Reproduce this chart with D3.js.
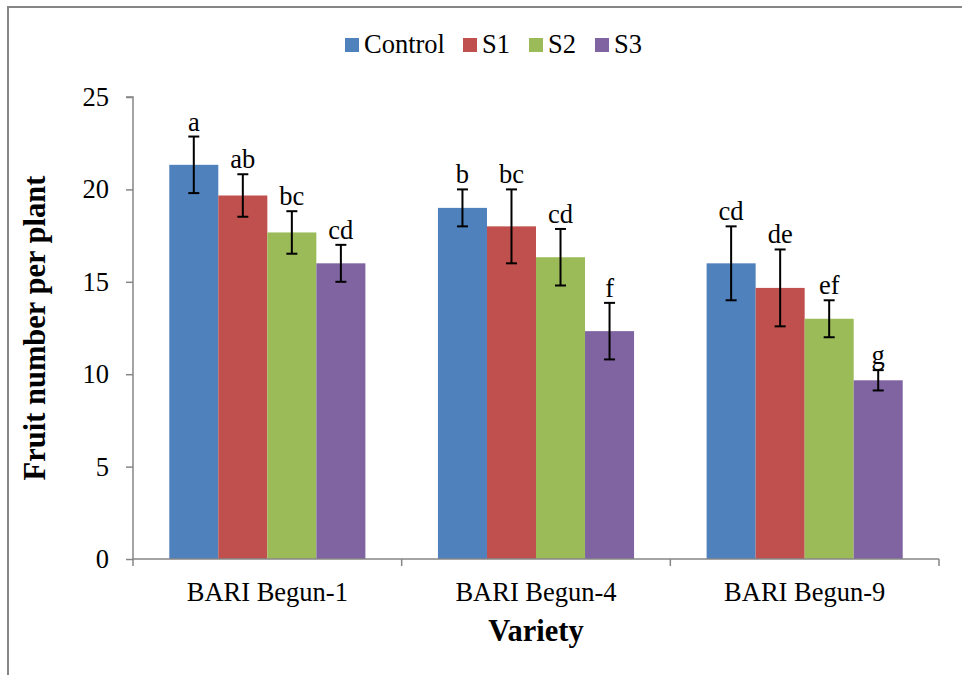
<!DOCTYPE html>
<html>
<head>
<meta charset="utf-8">
<script src="https://cdn.jsdelivr.net/npm/d3@7"></script>
<style>
  html, body { margin: 0; padding: 0; background: #fff; }
  svg { display: block; }
  svg text { font-family: "Liberation Serif", "Times New Roman", serif !important; fill: #000; }
</style>
</head>
<body>
<svg id="chart" width="962" height="675"></svg>
<script>
// Fruit number per plant by variety and treatment
const varieties = ["BARI Begun-1", "BARI Begun-4", "BARI Begun-9"];
const treatments = ["Control", "S1", "S2", "S3"];
const colors = ["#4F81BD", "#C0504D", "#9BBB59", "#8064A2"];

// mean values per treatment, in variety order
const controlVals = [21.33, 19.0, 16.0];
const s1Vals = [19.67, 18.0, 14.67];
const s2Vals = [17.67, 16.33, 13.0];
const s3Vals = [16.0, 12.33, 9.67];

// error bar half-widths
const controlErr = [1.53, 1.0, 2.0];
const s1Err = [1.15, 2.0, 2.08];
const s2Err = [1.15, 1.53, 1.0];
const s3Err = [1.0, 1.53, 0.55];

// significance letters
const controlLetters = ["a", "b", "cd"];
const s1Letters = ["ab", "bc", "de"];
const s2Letters = ["bc", "cd", "ef"];
const s3Letters = ["cd", "f", "g"];

const yTicks = [0, 5, 10, 15, 20, 25];

const seriesVals = [controlVals, s1Vals, s2Vals, s3Vals];
const seriesErr = [controlErr, s1Err, s2Err, s3Err];
const seriesLetters = [controlLetters, s1Letters, s2Letters, s3Letters];

const rows = [];
varieties.forEach((v, vi) => {
  treatments.forEach((t, ti) => {
    rows.push({ variety: v, treatment: t, value: seriesVals[ti][vi],
                err: seriesErr[ti][vi], letter: seriesLetters[ti][vi] });
  });
});

const serif = "'Liberation Serif', 'Times New Roman', serif";
const labelSize = "26.5px";
const titleSize = "30.5px";

const svg = d3.select("#chart");
const axisColor = "#868686";

// outer chart frame
svg.append("rect")
  .attr("x", 8).attr("y", 7).attr("width", 980).attr("height", 700)
  .attr("fill", "none").attr("stroke", axisColor).attr("stroke-width", 2);

const plotLeft = 133, plotRight = 939, plotTop = 97, plotBottom = 559;

const x0 = d3.scaleBand().domain(varieties).range([plotLeft, plotRight]).padding(0);
const x1 = d3.scaleBand().domain(treatments).range([0, x0.bandwidth()]).paddingInner(0).paddingOuter(0.74);
const y = d3.scaleLinear().domain([0, 25]).range([plotBottom, plotTop]);
const color = d3.scaleOrdinal().domain(treatments).range(colors);

// bars
svg.append("g").selectAll("rect").data(rows).join("rect")
  .attr("x", d => x0(d.variety) + x1(d.treatment))
  .attr("y", d => y(d.value))
  .attr("width", x1.bandwidth())
  .attr("height", d => y(0) - y(d.value))
  .attr("fill", d => color(d.treatment));

// y axis
const yAxis = svg.append("g")
  .attr("transform", `translate(${plotLeft},0)`)
  .call(d3.axisLeft(y).tickValues(yTicks).tickSize(7).tickPadding(17));
yAxis.attr("font-family", serif).attr("font-size", labelSize);
yAxis.select(".domain").attr("stroke", axisColor).attr("stroke-width", 1.5)
  .attr("d", `M-7,${plotTop}H0V${plotBottom}`);
yAxis.selectAll(".tick line").attr("stroke", axisColor).attr("stroke-width", 1.5);
yAxis.selectAll(".tick text").style("font-family", serif).style("font-size", labelSize);

// x axis: labels centred in each band, ticks on band boundaries
const xAxis = svg.append("g")
  .attr("transform", `translate(0,${plotBottom})`)
  .call(d3.axisBottom(x0).tickSize(0).tickPadding(23));
xAxis.attr("font-family", serif).attr("font-size", labelSize);
xAxis.select(".domain").attr("stroke", axisColor).attr("stroke-width", 1.5)
  .attr("d", `M${plotLeft},0H${plotRight}`);
xAxis.selectAll(".tick text").style("font-family", serif).style("font-size", labelSize);
const boundaries = varieties.map(v => x0(v)).concat([x0(varieties[varieties.length - 1]) + x0.bandwidth()]);
xAxis.selectAll("line.bound").data(boundaries).join("line")
  .attr("class", "bound")
  .attr("x1", d => d).attr("x2", d => d)
  .attr("y1", 0).attr("y2", 7)
  .attr("stroke", axisColor).attr("stroke-width", 1.5);

// error bars
const eb = svg.append("g").attr("stroke", "#000").attr("stroke-width", 2);
rows.forEach(d => {
  const cx = x0(d.variety) + x1(d.treatment) + x1.bandwidth() / 2;
  const yt = y(d.value + d.err), yb = y(d.value - d.err);
  eb.append("line").attr("x1", cx).attr("x2", cx).attr("y1", yt).attr("y2", yb);
  eb.append("line").attr("x1", cx - 5.5).attr("x2", cx + 5.5).attr("y1", yt).attr("y2", yt);
  eb.append("line").attr("x1", cx - 5.5).attr("x2", cx + 5.5).attr("y1", yb).attr("y2", yb);
});

// significance letters
svg.append("g").selectAll("text").data(rows).join("text")
  .attr("x", d => x0(d.variety) + x1(d.treatment) + x1.bandwidth() / 2)
  .attr("y", d => y(d.value + d.err) - 6)
  .attr("text-anchor", "middle")
  .style("font-family", serif)
  .style("font-size", labelSize)
  .text(d => d.letter);

// axis titles
svg.append("text")
  .attr("transform", `translate(45,${(plotTop + plotBottom) / 2}) rotate(-90)`)
  .attr("text-anchor", "middle")
  .style("font-family", serif)
  .style("font-size", titleSize).style("font-weight", "bold")
  .text("Fruit number per plant");

svg.append("text")
  .attr("x", (plotLeft + plotRight) / 2).attr("y", 641)
  .attr("text-anchor", "middle")
  .style("font-family", serif)
  .style("font-size", titleSize).style("font-weight", "bold")
  .text("Variety");

// legend
const legendX = [345, 463, 529, 595];
const legend = svg.append("g");
treatments.forEach((t, i) => {
  legend.append("rect").attr("x", legendX[i]).attr("y", 38).attr("width", 14).attr("height", 14)
    .attr("fill", color(t));
  legend.append("text").attr("x", legendX[i] + 19).attr("y", 53)
    .style("font-family", serif)
    .style("font-size", labelSize).text(t);
});
</script>
</body>
</html>
